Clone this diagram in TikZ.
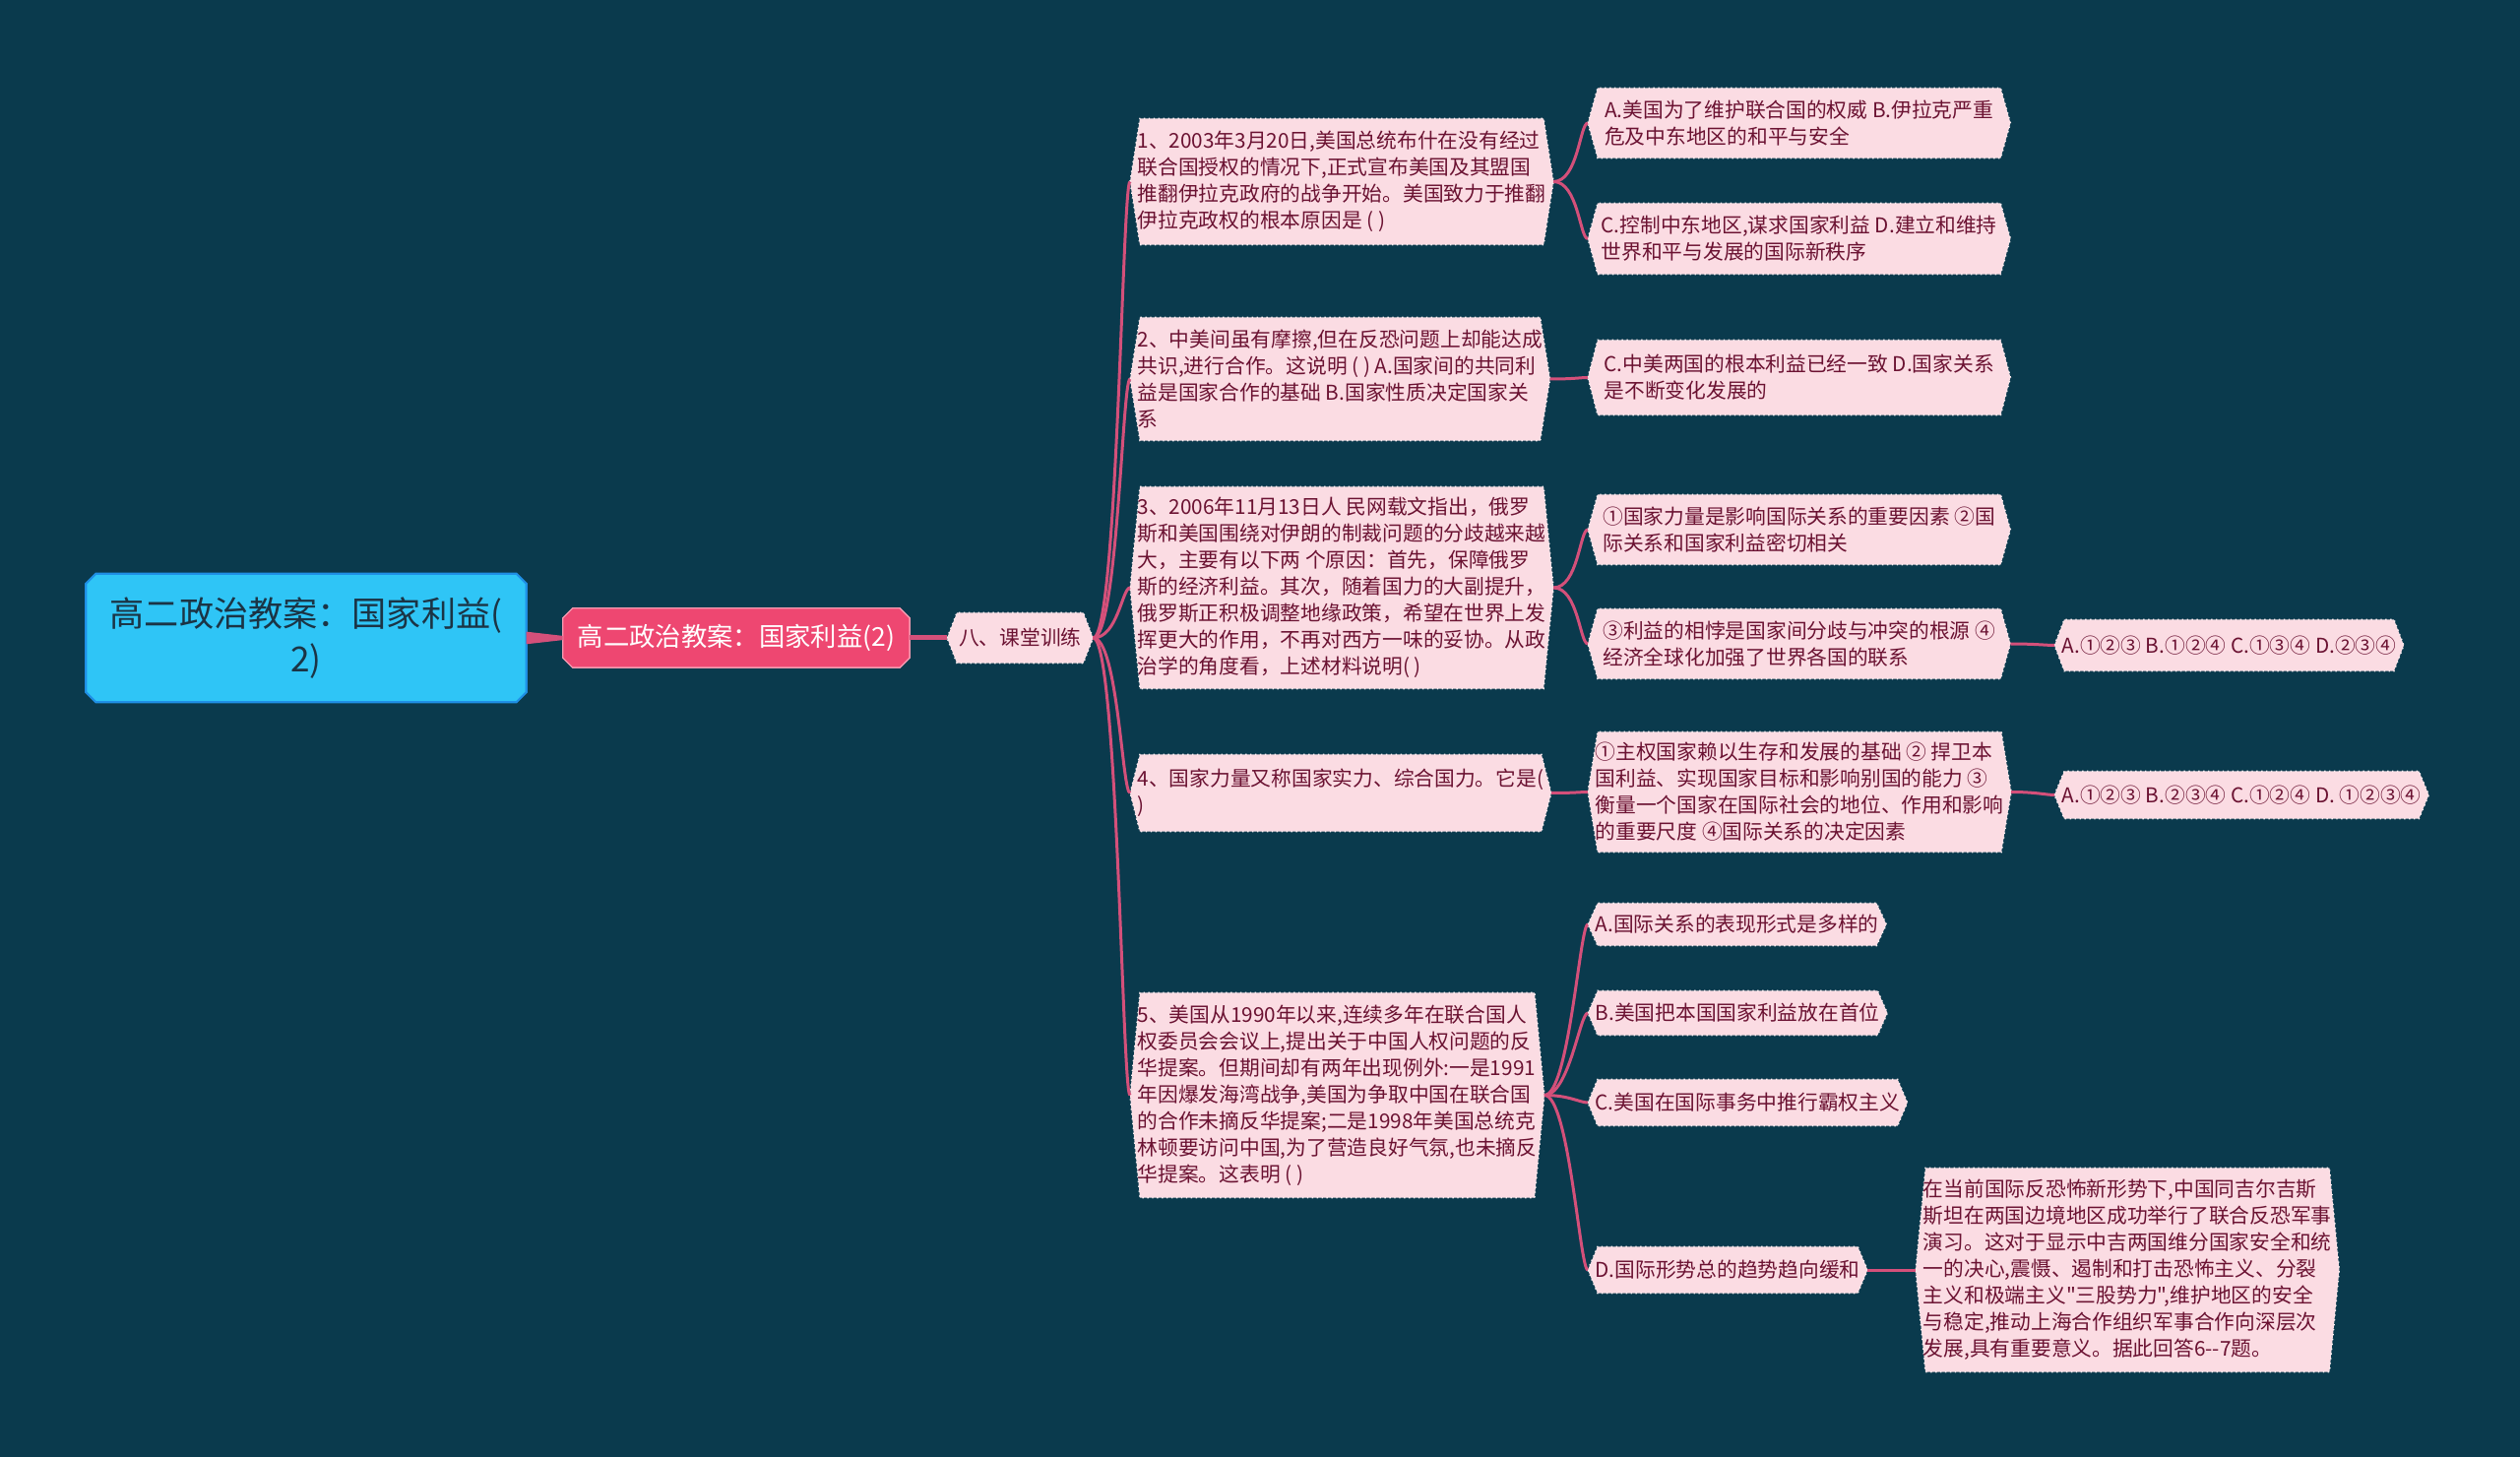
\documentclass[tikz,border=0pt]{standalone}
\usepackage{fontspec}
\setmainfont{Noto Sans CJK SC}
\newfontfamily\cjk{Noto Sans CJK SC}
\usetikzlibrary{positioning,calc,backgrounds}
\definecolor{bgc}{HTML}{0A3A4D}
\definecolor{rootfill}{HTML}{2FC5F6}
\definecolor{rootline}{HTML}{1F8FE5}
\definecolor{rootink}{HTML}{1B3445}
\definecolor{subfill}{HTML}{EE4771}
\definecolor{leaffill}{HTML}{FBDCE3}
\definecolor{leafink}{HTML}{6B1232}
\definecolor{wirec}{HTML}{D4507A}
\newcommand\leaffont{\cjk\fontsize{5.9pt}{7.7pt}\selectfont}
\newlength\tipd \setlength\tipd{1mm}
\newlength\cutd \setlength\cutd{1mm}
% pointed-side box behind a leaf node
\newcommand\hexbg[1]{\path[leafshape] (#1.west) -- ([xshift=\tipd]#1.north west) -- ([xshift=-\tipd]#1.north east) -- (#1.east) -- ([xshift=-\tipd]#1.south east) -- ([xshift=\tipd]#1.south west) -- cycle;}
% cut-corner box behind the two top nodes
\newcommand\octbg[2]{\path[#2] ([xshift=\cutd]#1.north west) -- ([xshift=-\cutd]#1.north east) -- ([yshift=-\cutd]#1.north east) -- ([yshift=\cutd]#1.south east) -- ([xshift=-\cutd]#1.south east) -- ([xshift=\cutd]#1.south west) -- ([yshift=\cutd]#1.south west) -- ([yshift=-\cutd]#1.north west) -- cycle;}
\tikzset{
  rootbox/.style={font=\cjk\fontsize{10pt}{13pt}\selectfont,text=rootink,align=center,minimum width=44.6mm,minimum height=12.9mm},
  rootshape/.style={fill=rootfill,draw=rootline,line width=0.6pt},
  subbox/.style={font=\cjk\fontsize{7.5pt}{9pt}\selectfont,text=white,minimum width=35.1mm,minimum height=5.9mm},
  subshape/.style={fill=subfill,draw=white!45!subfill,line width=0.4pt},
  leaf/.style={anchor=west,font=\leaffont,text=leafink,align=left,inner xsep=0.7mm,inner ysep=1mm},
  qleaf/.style={leaf,minimum width=41.9mm},
  aleaf/.style={leaf,minimum width=42.8mm},
  leafshape/.style={fill=leaffill,draw=white!55!leaffill,line width=0.4pt,densely dotted},
  link/.style={draw=wirec,line width=0.3mm,to path={.. controls ($(\tikztostart)+(25,0)$) and ($(\tikztotarget)+(-8,0)$) .. (\tikztotarget)}},
}
\begin{document}
\begin{tikzpicture}[x=0.1mm,y=-0.1mm]
\useasboundingbox (0,0) rectangle (2560,1480);
\node[rootbox] (root) at (311,648) {高二政治教案：国家利益(\\2)};
\node[subbox,right=3.7mm of root] (sub) {高二政治教案：国家利益(2)};
\node[leaf,anchor=center,right=3.8mm of sub,minimum width=14.7mm,minimum height=5mm] (drill) {八、课堂训练};
% questions
\node[qleaf,minimum height=12.7mm] (q1) at (1148,184.5) {1、2003年3月20日,美国总统布什在没有经过\\联合国授权的情况下,正式宣布美国及其盟国\\推翻伊拉克政府的战争开始。美国致力于推翻\\伊拉克政权的根本原因是 ( )};
\node[qleaf,minimum height=12.4mm] (q2) at (1148,385) {2、中美间虽有摩擦,但在反恐问题上却能达成\\共识,进行合作。这说明 ( ) A.国家间的共同利\\益是国家合作的基础 B.国家性质决定国家关\\系};
\node[qleaf,minimum height=20.4mm] (q3) at (1148,597) {3、2006年11月13日人 民网载文指出，俄罗\\斯和美国围绕对伊朗的制裁问题的分歧越来越\\大，主要有以下两 个原因：首先，保障俄罗\\斯的经济利益。其次，随着国力的大副提升，\\俄罗斯正积极调整地缘政策，希望在世界上发\\挥更大的作用，不再对西方一味的妥协。从政\\治学的角度看，上述材料说明( )};
\node[qleaf,minimum height=7.7mm] (q4) at (1148,805.5) {4、国家力量又称国家实力、综合国力。它是(\\ )};
\node[qleaf,minimum height=20.7mm] (q5) at (1148,1112.5) {5、美国从1990年以来,连续多年在联合国人\\权委员会会议上,提出关于中国人权问题的反\\华提案。但期间却有两年出现例外:一是1991\\年因爆发海湾战争,美国为争取中国在联合国\\的合作未摘反华提案;二是1998年美国总统克\\林顿要访问中国,为了营造良好气氛,也未摘反\\华提案。这表明 ( )};
% answers
\node[aleaf,minimum height=7mm] (q1a) at (1613,125) {A.美国为了维护联合国的权威 B.伊拉克严重\\危及中东地区的和平与安全};
\node[aleaf,minimum height=7.1mm] (q1b) at (1613,242.5) {C.控制中东地区,谋求国家利益 D.建立和维持\\世界和平与发展的国际新秩序};
\node[aleaf,minimum height=7.5mm] (q2a) at (1613,383.5) {C.中美两国的根本利益已经一致 D.国家关系\\是不断变化发展的};
\node[aleaf,minimum height=7mm] (q3a) at (1613,538) {①国家力量是影响国际关系的重要因素 ②国\\际关系和国家利益密切相关};
\node[aleaf,minimum height=7mm] (q3b) at (1613,654) {③利益的相悖是国家间分歧与冲突的根源 ④\\经济全球化加强了世界各国的联系};
\node[leaf,minimum height=5.1mm] (q3c) at (2087,655.5) {A.①②③ B.①②④ C.①③④ D.②③④};
\node[aleaf,minimum height=12.1mm] (q4a) at (1613,804.5) {①主权国家赖以生存和发展的基础 ② 捍卫本\\国利益、实现国家目标和影响别国的能力 ③\\衡量一个国家在国际社会的地位、作用和影响\\的重要尺度 ④国际关系的决定因素};
\node[leaf,minimum height=4.7mm] (q4b) at (2087,807.5) {A.①②③ B.②③④ C.①②④ D. ①②③④};
\node[leaf,minimum height=4.2mm] (q5a) at (1613,939) {A.国际关系的表现形式是多样的};
\node[leaf,minimum height=4.4mm] (q5b) at (1613,1029) {B.美国把本国国家利益放在首位};
\node[leaf,minimum height=4.6mm] (q5c) at (1613,1120) {C.美国在国际事务中推行霸权主义};
\node[leaf,minimum height=4.6mm] (q5d) at (1613,1290) {D.国际形势总的趋势趋向缓和};
\node[leaf,minimum width=42.9mm,minimum height=20.6mm] (q5e) at (1946,1290) {在当前国际反恐怖新形势下,中国同吉尔吉斯\\斯坦在两国边境地区成功举行了联合反恐军事\\演习。这对于显示中吉两国维分国家安全和统\\一的决心,震慑、遏制和打击恐怖主义、分裂\\主义和极端主义"三股势力",维护地区的安全\\与稳定,推动上海合作组织军事合作向深层次\\发展,具有重要意义。据此回答6--7题。};
\begin{scope}[on background layer]
\fill[bgc] (0,0) rectangle (2560,1480);
\octbg{root}{rootshape}
\octbg{sub}{subshape}
\foreach \n in {drill,q1,q2,q3,q4,q5,q1a,q1b,q2a,q3a,q3b,q3c,q4a,q4b,q5a,q5b,q5c,q5d,q5e} {\hexbg{\n}}
\end{scope}
\fill[wirec] ([yshift=1.8pt]root.east) -- ([yshift=0.6pt]sub.west) -- ([yshift=-0.6pt]sub.west) -- ([yshift=-1.8pt]root.east) -- cycle;
\draw[wirec,line width=0.5mm] (sub) -- (drill);
\foreach \q in {q1,q2,q3,q4,q5} \draw[link] (drill.east) to (\q.west);
\draw[link] (q1.east) to (q1a.west); \draw[link] (q1.east) to (q1b.west);
\draw[link] (q2.east) to (q2a.west);
\draw[link] (q3.east) to (q3a.west); \draw[link] (q3.east) to (q3b.west); \draw[link] (q3b.east) to (q3c.west);
\draw[link] (q4.east) to (q4a.west); \draw[link] (q4a.east) to (q4b.west);
\foreach \a in {q5a,q5b,q5c,q5d} \draw[link] (q5.east) to (\a.west);
\draw[link] (q5d.east) to (q5e.west);
\end{tikzpicture}
\end{document}
